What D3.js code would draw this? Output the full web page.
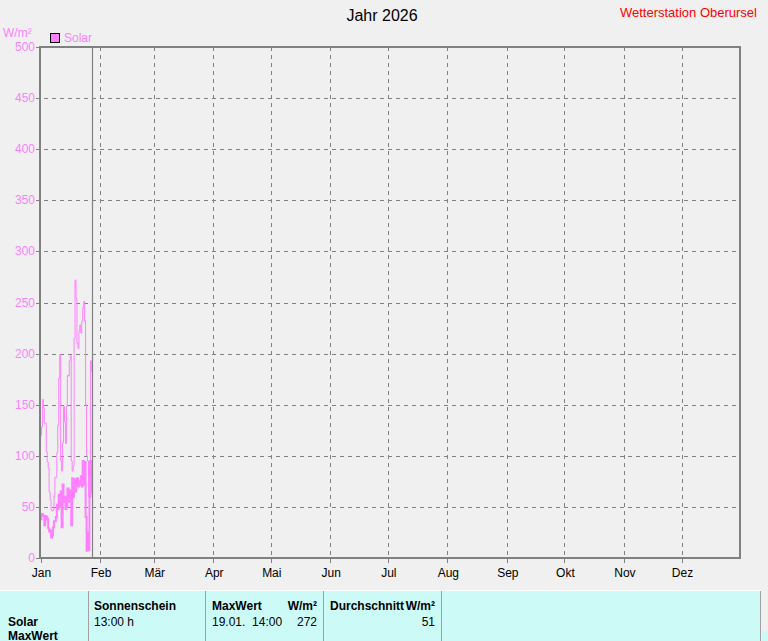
<!DOCTYPE html>
<html><head><meta charset="utf-8">
<script src="https://cdn.jsdelivr.net/npm/d3@7"></script>
<style>
html,body{margin:0;padding:0;background:#F0F0F0;}
svg{display:block;font-family:"Liberation Sans",Arial,sans-serif;}
</style></head>
<body>
<script>
// ---- data ----
const title = "Jahr 2026";
const station = "Wetterstation Oberursel";
const unit = "W/m²";
const seriesName = "Solar";
const months = ["Jan","Feb","Mär","Apr","Mai","Jun","Jul","Aug","Sep","Okt","Nov","Dez"];
const yTicks = [0,50,100,150,200,250,300,350,400,450,500];
const startDate = new Date(2026,0,1,0,0);
const stepHours = 12;
// half-day maximum values (thin line)
const solarMax = [120,128,155,147,132,132,104,94,88,65,57,47,46,47,60,79,79,103,130,176,199,95,85,113,148,133,112,148,179,178,193,198,95,85,90,215,272,254,210,205,222,228,220,232,245,251,232,150,100,95,60,95,193,182];
// half-day mean values (thick line)
const solarAvg = [38,43,42,41,32,41,40,38,29,26,27,20,22,30,36,36,40,52,48,62,50,65,30,72,55,60,48,50,68,67,55,66,32,78,60,77,65,75,78,70,75,72,80,70,95,72,94,40,7,25,8,60,95,63];
const tableHead = ["Sonnenschein","MaxWert","W/m²","Durchschnitt","W/m²"];
const tableRow = ["Solar","13:00 h","19.01.  14:00","272","51"];
const tableRow2 = ["MaxWert"];

// ---- layout ----
const W=768,H=641;
const L=40,R=740,T=47,B=558;
const pink="#FF80FF", gray="#808080";
const svg=d3.select("body").append("svg").attr("width",W).attr("height",H);
svg.append("rect").attr("width",W).attr("height",H).attr("fill","#F0F0F0");

const x=d3.scaleTime().domain([new Date(2026,0,1),new Date(2027,0,1)]).range([40.5,741]);
const y=d3.scaleLinear().domain([0,500]).range([B,T]);
const times=solarMax.map((_,i)=>new Date(startDate.getTime()+i*stepHours*3600e3));

// grid horizontal
svg.append("g").selectAll("line").data(yTicks.filter(v=>v>0&&v<500)).join("line")
  .attr("x1",36).attr("x2",R).attr("y1",d=>Math.round(y(d))+0.5).attr("y2",d=>Math.round(y(d))+0.5)
  .attr("stroke",gray).attr("stroke-dasharray","4,4");
// y ticks labels
svg.append("g").selectAll("text").data(yTicks).join("text")
  .attr("x",35).attr("y",d=>Math.round(y(d))+4).attr("text-anchor","end")
  .attr("font-size",12).attr("fill",pink).text(d=>d);
svg.append("g").selectAll("line").data(yTicks).join("line")
  .attr("x1",36).attr("x2",L).attr("y1",d=>Math.round(y(d))+0.5).attr("y2",d=>Math.round(y(d))+0.5)
  .attr("stroke",gray);

// month grid
const monthDates=months.map((m,i)=>new Date(2026,i,1));
svg.append("g").selectAll("line").data(monthDates.slice(1)).join("line")
  .attr("x1",d=>Math.round(x(d))+0.5).attr("x2",d=>Math.round(x(d))+0.5)
  .attr("y1",T).attr("y2",B).attr("stroke",gray).attr("stroke-dasharray","4,4");
svg.append("g").selectAll("line").data(monthDates).join("line")
  .attr("x1",d=>Math.round(x(d))+0.5).attr("x2",d=>Math.round(x(d))+0.5)
  .attr("y1",B).attr("y2",B+5).attr("stroke",gray);
svg.append("g").selectAll("text").data(monthDates).join("text")
  .attr("x",d=>x(d)+1).attr("y",577).attr("text-anchor","middle")
  .attr("font-size",12).attr("fill","#000").text((d,i)=>months[i]);

// lines
const lineGen=d3.line().x((d,i)=>x(times[i])).y(d=>y(d)).curve(d3.curveStepAfter);
const g=svg.append("g");
g.append("path").datum(solarMax).attr("d",lineGen).attr("fill","none").attr("stroke",pink).attr("stroke-width",1);
g.append("path").datum(solarAvg).attr("d",lineGen).attr("fill","none").attr("stroke",pink).attr("stroke-width",2);

// current time marker
const nowX=Math.round(x(times[times.length-1]))+1.5;
svg.append("line").attr("x1",nowX).attr("x2",nowX).attr("y1",T).attr("y2",B).attr("stroke",gray).attr("stroke-width",1.2);

// frame
svg.append("rect").attr("x",L).attr("y",T).attr("width",R-L).attr("height",B-T)
  .attr("fill","none").attr("stroke",gray).attr("stroke-width",2);

// titles
svg.append("text").attr("x",382).attr("y",21).attr("text-anchor","middle").attr("font-size",16).attr("fill","#000").text(title);
svg.append("text").attr("x",757).attr("y",17).attr("text-anchor","end").attr("font-size",13).attr("fill","#FF0000").text(station);
svg.append("text").attr("x",3).attr("y",37).attr("font-size",12).attr("fill",pink).text(unit);
svg.append("rect").attr("x",50.5).attr("y",33.5).attr("width",9).attr("height",9).attr("fill",pink).attr("stroke","#000");
svg.append("text").attr("x",64).attr("y",42).attr("font-size",12).attr("fill",pink).text(seriesName);

// table
svg.append("rect").attr("x",0).attr("y",590).attr("width",761).attr("height",1).attr("fill","#fff");
svg.append("rect").attr("x",0).attr("y",591).attr("width",760).attr("height",50).attr("fill","#CCFAF6");
svg.append("rect").attr("x",762).attr("y",631).attr("width",6).attr("height",10).attr("fill","#CCFAF6");
[88,205,323,441,760].forEach(v=>{
  svg.append("line").attr("x1",v+0.5).attr("x2",v+0.5).attr("y1",591).attr("y2",641).attr("stroke","#A0A0A0");
});
const tf=svg.append("g").attr("font-size",12).attr("fill","#000");
tf.append("text").attr("x",8).attr("y",626).attr("font-weight","bold").text(tableRow[0]);
tf.append("text").attr("x",8).attr("y",640).attr("font-weight","bold").text(tableRow2[0]);
tf.append("text").attr("x",94).attr("y",610).attr("font-weight","bold").text(tableHead[0]);
tf.append("text").attr("x",94).attr("y",626).text(tableRow[1]);
tf.append("text").attr("x",212).attr("y",610).attr("font-weight","bold").text(tableHead[1]);
tf.append("text").attr("x",317).attr("y",610).attr("font-weight","bold").attr("text-anchor","end").text(tableHead[2]);
tf.append("text").attr("x",212).attr("y",626).style("white-space","pre").text(tableRow[2]);
tf.append("text").attr("x",317).attr("y",626).attr("text-anchor","end").text(tableRow[3]);
tf.append("text").attr("x",330).attr("y",610).attr("font-weight","bold").text(tableHead[3]);
tf.append("text").attr("x",435).attr("y",610).attr("font-weight","bold").attr("text-anchor","end").text(tableHead[4]);
tf.append("text").attr("x",435).attr("y",626).attr("text-anchor","end").text(tableRow[4]);
</script>
</body></html>
